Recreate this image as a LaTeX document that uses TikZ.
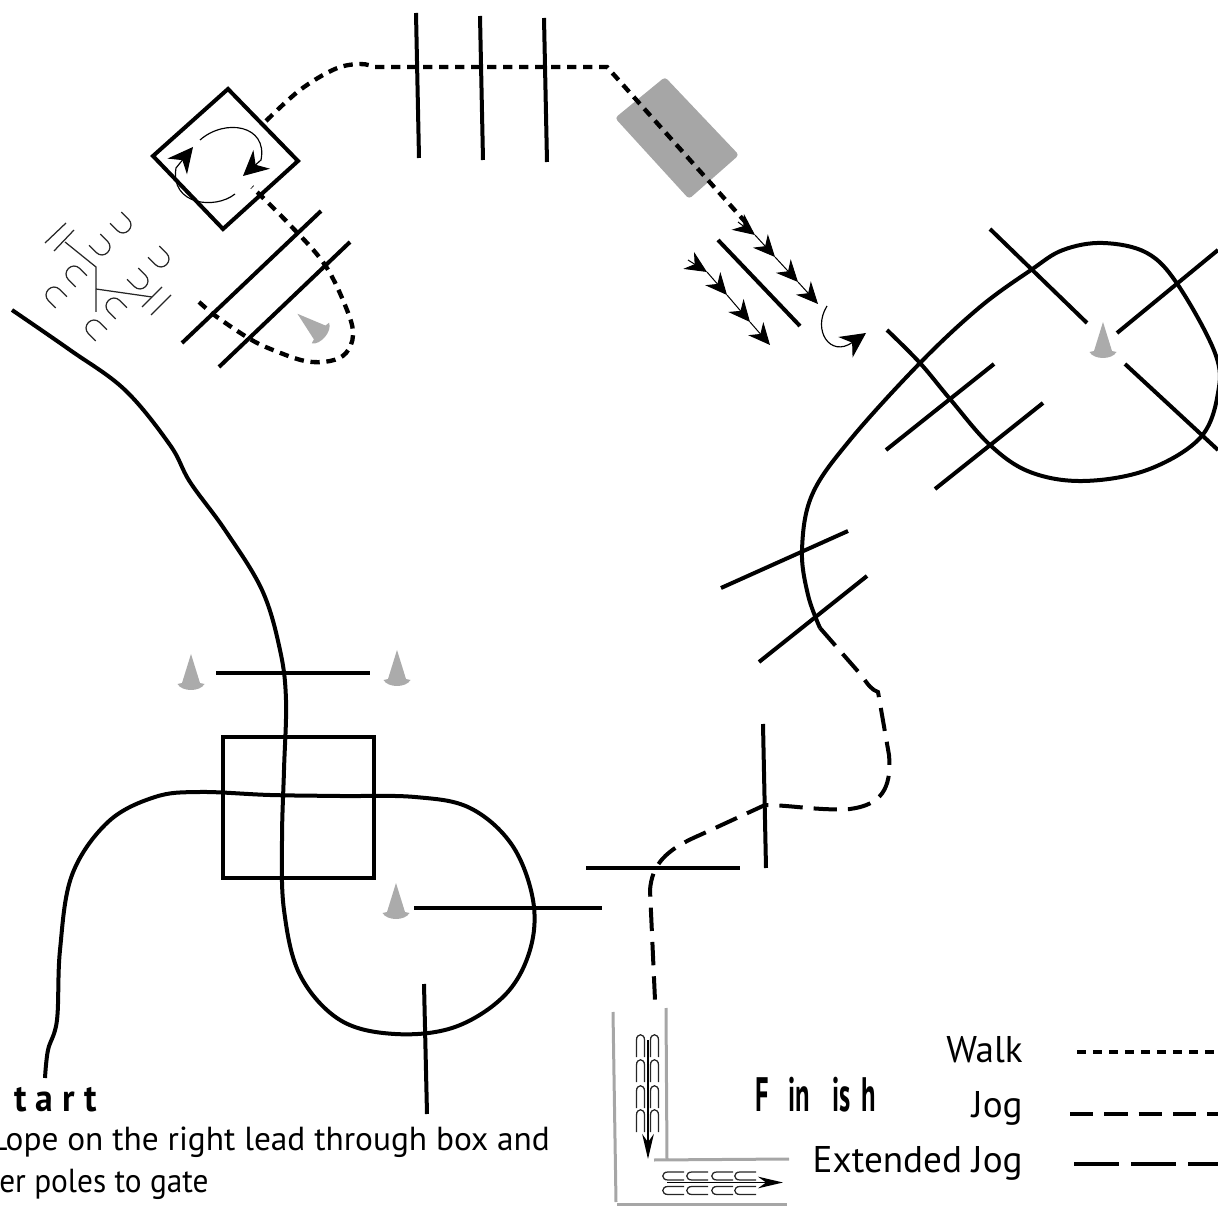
\documentclass[tikz,border=0pt]{standalone}
\usepackage{fontspec}
\setmainfont{PT Sans}
\usetikzlibrary{arrows.meta}
\definecolor{conegray}{HTML}{ABABAB}
\definecolor{boxgray}{HTML}{A6A6A6}
\tikzset{
  >={Stealth[length=13pt,width=12pt]},
  % bana
  pole/.style={draw=black,line width=2.4pt},
  lope/.style={draw=black,line width=2.4pt},
  walk/.style={draw=black,line width=2.6pt,dash pattern=on 5.6pt off 4pt},
  jog/.style={draw=black,line width=2.4pt,dash pattern=on 14pt off 6.6pt},
  extjog/.style={draw=black,line width=2.4pt,dash pattern=on 27pt off 7.2pt},
  turnarrow/.style={-{Stealth[length=15pt,width=15pt]},draw=black,line width=0.7pt},
  chain/.style={->,draw=black,line width=0.6pt},
  slimarrow/.style={-{Stealth[length=15pt,width=7pt]},draw=black,line width=0.9pt},
  track/.style={draw=black!85,line width=0.75pt},
  rail/.style={draw=black!35,line width=1.8pt},
  legend/.style={font=\fontsize{22.3}{26}\selectfont,anchor=base east,inner sep=0pt},
  note/.style={font=\fontsize{20}{24}\selectfont,anchor=base west,inner sep=0pt},
  heading/.style={font=\fontsize{23}{26}\selectfont\bfseries,inner sep=0pt,anchor=base west},
  cone/.pic={\fill[conegray] (0,-19) -- (9,10) -- (13.5,11) .. controls (9,19) and (-9,19) .. (-13.5,11) -- (-9,10) -- cycle;},
  shoe/.pic={\draw[track] (-8,-9) -- (-8,1) .. controls (-8,12) and (8,12) .. (8,1) -- (8,-9);},
  slim/.pic={\draw[track] (-4,22) -- (-4,5) .. controls (-4,-2) and (4,-2) .. (4,5) -- (4,22);},
  flat/.pic={\draw[track] (21,-4) -- (5,-4) .. controls (-2,-4) and (-2,4) .. (5,4) -- (21,4);},
}
\begin{document}
\begin{tikzpicture}[x=0.6pt,y=-0.6pt]
  \path[use as bounding box,clip] (0,0) rectangle (1218,1206);
  % poles
  \draw[pole] (416,13) -- (419,158);
  \draw[pole] (480,16) -- (483,160);
  \draw[pole] (544,18) -- (547,162);
  \draw[pole] (321,211) -- (182,343);
  \draw[pole] (350,242) -- (219,367);
  \draw[pole] (718,240) -- (800,326);
  \draw[pole] (990,229) -- (1087,323);
  \draw[pole] (1117,333) -- (1218,250);
  \draw[pole] (1125,364) -- (1218,450);
  \draw[pole] (886,450) -- (994,364);
  \draw[pole] (935,489) -- (1043,403);
  \draw[pole] (721,588) -- (848,531);
  \draw[pole] (759,662) -- (867,576);
  \draw[pole] (763,724) -- (766,868);
  \draw[pole] (586,868) -- (740,868);
  \draw[pole] (216,673) -- (370,673);
  \draw[pole] (414,908) -- (602,908);
  \draw[pole] (424,984) -- (427,1114);
  % boxes
  \draw[pole,line join=miter] (228,89) -- (298,161) -- (223,229) -- (153,156) -- cycle;
  \draw[pole,line join=miter] (223,737) rectangle (374,878);
  \fill[boxgray,rounded corners=2pt] (665,77) -- (739,155) -- (689,199) -- (615,118) -- cycle;
  % cones
  \pic at (191,673) {cone};
  \pic at (397,669) {cone};
  \pic at (396,902) {cone};
  \pic at (1103,341) {cone};
  \pic[rotate=50] at (312,326) {cone};
  % lope
  \draw[lope] plot[smooth,tension=0.6] coordinates {(45,1078) (48,1050) (57,1020) (60,950) (72,875) (108,822) (155,797) (200,792) (270,795) (340,796) (415,797) (470,808) (512,845) (533,900) (530,950) (505,995) (455,1027) (395,1034) (340,1020) (300,975) (284,910) (282,840) (284,770) (286,700) (280,650) (262,590) (225,530) (190,482) (170,445) (125,390) (70,350) (12,310)};
  \draw[lope] plot[smooth,tension=0.6] coordinates {(887,330) (920,363) (950,399) (990,445) (1030,472) (1083,481) (1147,470) (1200,438) (1218,393) (1215,353) (1178,285) (1147,253) (1103,243) (1063,250) (1031,270) (980,307) (920,363) (850,440) (812,495) (802,550) (808,595) (820,628)};
  % walk
  \draw[walk] plot[smooth,tension=0.6] coordinates {(266,121) (300,90) (335,69) (360,64) (375,67)} -- (607,67) -- (748,225);
  \draw[walk] plot[smooth,tension=0.6] coordinates {(199,302) (217,317) (250,339) (273,350) (305,361) (330,361) (346,353) (353,335) (347,310) (325,265) (290,225) (252,187)};
  % jog
  \draw[jog] (820,628) -- (862,676) .. controls (868,685) and (872,690) .. (878,692) -- (889,755) .. controls (892,790) and (880,805) .. (850,809) .. controls (820,811) and (790,805) .. (765,805) -- (700,835) .. controls (665,850) and (652,865) .. (650,890) -- (655,1000);
  % movement arrows
  \draw[turnarrow] (200,140) .. controls (225,118) and (268,125) .. (261,160) -- (243,176);
  \draw[turnarrow] (235,194) .. controls (215,210) and (170,205) .. (176,168) -- (193,147);
  \draw[turnarrow] (827,306) .. controls (812,330) and (830,358) .. (866,333);
  \draw[chain] (738,222) -- (755,235);
  \draw[chain] (755,235) -- (775,257);
  \draw[chain] (775,257) -- (798,282);
  \draw[chain] (798,282) -- (818,304);
  \draw[chain] (688,260) -- (707,272);
  \draw[chain] (707,272) -- (727,295);
  \draw[chain] (727,295) -- (750,322);
  \draw[chain] (750,322) -- (770,345);
  % fan poles
  \draw[track] (45,243) -- (66,223);
  \draw[track] (54,251) -- (74,230);
  \draw[track] (65,242) -- (96,267) -- (96,312);
  \draw[track] (96,289) -- (152,297);
  \draw[track] (142,307) -- (162,287);
  \draw[track] (151,315) -- (171,295);
  \pic[rotate=45] at (101,246) {shoe};
  \pic[rotate=45] at (122,224) {shoe};
  \pic[rotate=45] at (139,280) {shoe};
  \pic[rotate=45] at (160,258) {shoe};
  \pic[rotate=225] at (75,275) {shoe};
  \pic[rotate=225] at (55,296) {shoe};
  \pic[rotate=225] at (115,307) {shoe};
  \pic[rotate=225] at (95,329) {shoe};
  % L
  \draw[rail] (613,1012) -- (616,1202);
  \draw[rail] (617,1204) -- (787,1204);
  \draw[rail] (666,1008) -- (667,1159);
  \draw[rail] (654,1160) -- (789,1159);
  \foreach \y in {1035,1060,1086,1110} {
    \pic at (640.5,\y) {slim};
    \pic at (654.5,\y) {slim};
  }
  \foreach \x in {663,687,712,735} {
    \pic at (\x,1176) {flat};
    \pic at (\x,1190.5) {flat};
  }
  \draw[slimarrow] (648,1040) -- (648,1159);
  \draw[slimarrow] (667,1182.5) -- (783,1182.5);
  % text
  \node[heading,xscale=0.93] (start) at (14,1111) {t a r t};
  \node[note] (task1) at (-10,1150) {Lope on the right lead through box and};
  \node[note,xscale=0.94] (task2) at (-1,1192) {er poles to gate};
  \node[heading,xscale=0.55,font=\fontsize{29}{30}\selectfont\bfseries] (finish) at (755,1111) {F\hspace{22pt}in\hspace{24pt}is\hspace{12pt}h};
  \node[legend] (lwalk) at (1023,1062) {Walk};
  \node[legend] (ljog) at (1023,1117) {Jog};
  \node[legend] (lext) at (1023,1172) {Extended Jog};
  \draw[walk] (1077,1052) -- (1218,1052);
  \draw[jog] (1070,1114) -- (1218,1114);
  \draw[extjog] (1074,1164) -- (1218,1164);
\end{tikzpicture}
\end{document}
